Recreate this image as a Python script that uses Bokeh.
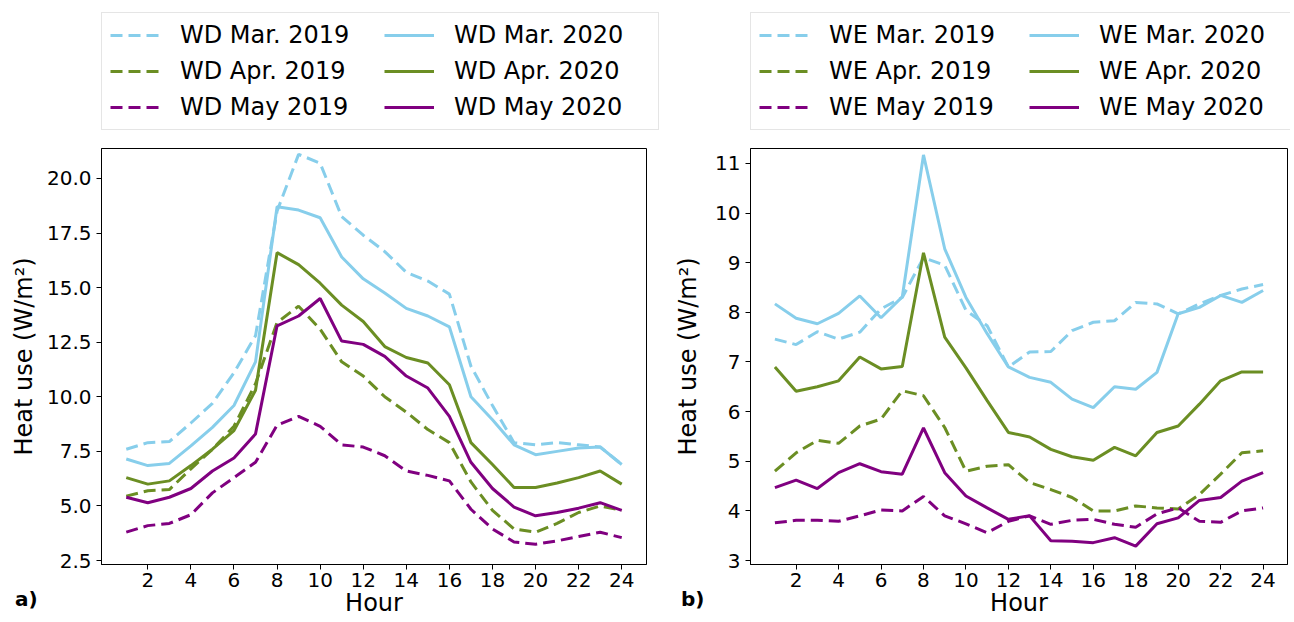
from bokeh.plotting import figure
from bokeh.layouts import row, column
from bokeh.models import (Legend, LegendItem, FixedTicker, NumeralTickFormatter,
                          Range1d, Div)
from bokeh.embed import file_html
from bokeh.resources import INLINE

hours = list(range(1, 25))

# Weekday (a)
wd_mar_2019 = [7.6, 7.9, 7.95, 8.8, 9.7, 11.1, 12.8, 18.5, 21.1, 20.7, 18.25, 17.4,
               16.65, 15.7, 15.3, 14.7, 11.4, 9.6, 7.9, 7.8, 7.9, 7.8, 7.7, 6.9]
wd_mar_2020 = [7.15, 6.85, 6.95, 7.75, 8.6, 9.6, 11.6, 18.7, 18.55, 18.2, 16.4, 15.4,
               14.75, 14.05, 13.7, 13.2, 10.0, 8.95, 7.8, 7.35, 7.5, 7.65, 7.7, 6.9]
wd_apr_2019 = [5.45, 5.7, 5.75, 6.7, 7.6, 8.65, 10.6, 13.4, 14.15, 13.1, 11.6, 10.95,
               10.0, 9.3, 8.5, 7.9, 6.1, 4.8, 3.95, 3.8, 4.2, 4.7, 5.0, 4.8]
wd_apr_2020 = [6.3, 6.0, 6.15, 6.85, 7.6, 8.45, 10.3, 16.6, 16.05, 15.2, 14.2, 13.45,
               12.3, 11.8, 11.55, 10.55, 7.9, 6.9, 5.85, 5.85, 6.05, 6.3, 6.6, 6.0]
wd_may_2019 = [3.8, 4.1, 4.2, 4.6, 5.6, 6.3, 7.0, 8.7, 9.1, 8.65, 7.8, 7.7,
               7.3, 6.6, 6.4, 6.15, 4.85, 3.95, 3.35, 3.25, 3.4, 3.6, 3.8, 3.55]
wd_may_2020 = [5.4, 5.15, 5.4, 5.8, 6.6, 7.2, 8.3, 13.25, 13.7, 14.5, 12.55, 12.4,
               11.85, 10.95, 10.4, 9.1, 7.0, 5.8, 4.95, 4.55, 4.7, 4.9, 5.15, 4.8]

# Weekend (b)
we_mar_2019 = [7.46, 7.35, 7.61, 7.46, 7.6, 8.07, 8.3, 9.1, 8.95, 8.04, 7.73, 6.9,
               7.2, 7.21, 7.63, 7.8, 7.83, 8.2, 8.17, 7.97, 8.17, 8.34, 8.47, 8.56]
we_mar_2020 = [8.17, 7.88, 7.77, 7.98, 8.33, 7.89, 8.31, 11.17, 9.28, 8.3, 7.57, 6.9,
               6.69, 6.59, 6.25, 6.08, 6.5, 6.45, 6.79, 7.97, 8.1, 8.34, 8.2, 8.44]
we_apr_2019 = [4.8, 5.17, 5.42, 5.36, 5.71, 5.85, 6.42, 6.32, 5.68, 4.8, 4.9, 4.93,
               4.57, 4.43, 4.27, 4.0, 4.0, 4.1, 4.06, 4.04, 4.33, 4.74, 5.17, 5.21]
we_apr_2020 = [6.9, 6.41, 6.5, 6.62, 7.1, 6.86, 6.91, 9.2, 7.5, 6.88, 6.22, 5.58,
               5.49, 5.24, 5.09, 5.02, 5.28, 5.11, 5.58, 5.71, 6.15, 6.62, 6.8, 6.8]
we_may_2019 = [3.76, 3.81, 3.81, 3.79, 3.9, 4.02, 4.0, 4.29, 3.9, 3.74, 3.56, 3.79,
               3.9, 3.73, 3.81, 3.83, 3.73, 3.67, 3.94, 4.06, 3.79, 3.77, 4.0, 4.06]
we_may_2020 = [4.47, 4.62, 4.45, 4.77, 4.95, 4.79, 4.74, 5.67, 4.77, 4.3, 4.06, 3.83,
               3.9, 3.4, 3.39, 3.36, 3.46, 3.29, 3.74, 3.86, 4.21, 4.27, 4.6, 4.77]

x_ticks = list(range(2, 25, 2))
left_y_ticks = [2.5, 5.0, 7.5, 10.0, 12.5, 15.0, 17.5, 20.0]
right_y_ticks = [3, 4, 5, 6, 7, 8, 9, 10, 11]

BLUE = "#87ceeb"
GREEN = "#6b8e23"
PURPLE = "#800080"
FONT = "DejaVu Sans"
DASH = "12 6"
LW = 3
LEG_TOP = 12
LEG_FRAME_H = 136
FRAME_H = 416
BOTTOM = 52


def make_panel(prefix, series, y_range, y_ticks, y_fmt, frame_w, border_left,
               border_right, ylab_standoff):
    total_w = frame_w + border_left + border_right
    labels = [f"{prefix} Mar. 2019", f"{prefix} Apr. 2019", f"{prefix} May 2019",
              f"{prefix} Mar. 2020", f"{prefix} Apr. 2020", f"{prefix} May 2020"]
    colors = [BLUE, GREEN, PURPLE, BLUE, GREEN, PURPLE]
    dashes = [DASH, DASH, DASH, "solid", "solid", "solid"]

    # main plot
    p = figure(frame_width=frame_w, frame_height=FRAME_H, output_backend="svg",
               toolbar_location=None,
               x_range=Range1d(-0.15, 25.15), y_range=Range1d(*y_range),
               min_border_left=border_left, min_border_right=border_right,
               min_border_top=0, min_border_bottom=BOTTOM)
    p.grid.visible = False
    p.outline_line_color = "black"
    p.outline_line_width = 1
    for ys, c, d in zip(series, colors, dashes):
        p.line(hours, ys, line_color=c, line_width=LW, line_dash=d)

    for ax in (p.xaxis[0], p.yaxis[0]):
        ax.axis_line_color = "black"
        ax.major_tick_line_color = "black"
        ax.major_tick_out = 5
        ax.major_tick_in = 0
        ax.minor_tick_line_color = None
        ax.major_label_text_font = FONT
        ax.major_label_text_font_size = "20px"
        ax.major_label_text_color = "black"
        ax.axis_label_text_font = FONT
        ax.axis_label_text_font_size = "24px"
        ax.axis_label_text_font_style = "normal"
        ax.axis_label_text_color = "black"

    p.xaxis.ticker = FixedTicker(ticks=x_ticks)
    p.xaxis.axis_label = "Hour"
    p.xaxis.major_label_standoff = 3
    p.xaxis.axis_label_standoff = -1
    p.yaxis.ticker = FixedTicker(ticks=y_ticks)
    p.yaxis.formatter = NumeralTickFormatter(format=y_fmt)
    p.yaxis.axis_label = "Heat use (W/m²)"
    p.yaxis.major_label_standoff = 5
    p.yaxis.axis_label_standoff = ylab_standoff

    # legend strip above the plot; its own lines lie outside its (0..1) view
    lg = figure(frame_width=total_w - border_left, frame_height=LEG_FRAME_H,
                output_backend="svg", toolbar_location=None,
                x_axis_location=None, y_axis_location=None,
                min_border_left=border_left, min_border_right=0,
                min_border_top=LEG_TOP, min_border_bottom=0,
                x_range=Range1d(0, 1), y_range=Range1d(0, 1))
    lg.grid.visible = False
    lg.outline_line_color = None
    rends = [lg.line(hours, ys, line_color=c, line_width=LW, line_dash=d)
             for ys, c, d in zip(series, colors, dashes)]
    items = [LegendItem(label=lab, renderers=[r]) for lab, r in zip(labels, rends)]
    leg = Legend(items=items, orientation="vertical", nrows=3,
                 location="top_left", margin=0, padding=8,
                 spacing=8, glyph_width=50, glyph_height=28, label_standoff=20,
                 label_width=int((frame_w - 16 - 8 - 2 * (50 + 20)) / 2) + 6,
                 label_text_font=FONT, label_text_font_size="24px",
                 label_text_color="black",
                 border_line_color="#cccccc", border_line_width=1,
                 background_fill_color="white", background_fill_alpha=0.8)
    lg.add_layout(leg, "center")
    return column(lg, p, spacing=0)


c1 = make_panel("WD", [wd_mar_2019, wd_apr_2019, wd_may_2019,
                       wd_mar_2020, wd_apr_2020, wd_may_2020],
                (2.32, 21.37), left_y_ticks, "0.0", 545, 101, 22, 6)
c2 = make_panel("WE", [we_mar_2019, we_apr_2019, we_may_2019,
                       we_mar_2020, we_apr_2020, we_may_2020],
                (2.92, 11.3), right_y_ticks, "0", 537, 82, 3, 10)

tag_style = {"position": "absolute", "font-family": FONT, "font-size": "20px",
             "font-weight": "bold", "color": "black", "top": "580px"}
tag_a = Div(text="a)", styles=dict(tag_style, left="10px"))
tag_b = Div(text="b)", styles=dict(tag_style, left="676px"))

layout = column(row(c1, c2, spacing=0), tag_a, tag_b, spacing=0)
open("out.html", "w").write(file_html(layout, INLINE))
